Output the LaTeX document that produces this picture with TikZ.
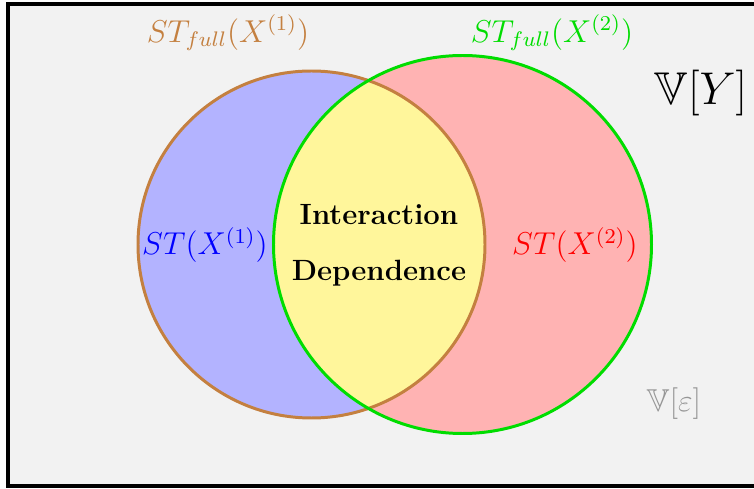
\documentclass[tikz,border=0pt]{standalone}
\usepackage{amsmath,amssymb,xcolor}
\definecolor{vdback}{RGB}{242,242,242}
\definecolor{vdblue}{RGB}{179,179,255}
\definecolor{vdred}{RGB}{255,179,179}
\definecolor{vdyellow}{RGB}{255,246,155}
\definecolor{vdbrown}{RGB}{196,128,64}
\definecolor{vdgreen}{RGB}{0,221,0}
\definecolor{vdgray}{RGB}{150,150,150}
\usepackage{tikz}
\usetikzlibrary{positioning}

\begin{document}
\begin{tikzpicture}[x=0.02cm, y=-0.02cm,
  mathlbl/.style={font=\large, scale=1.5, transform shape},
  boldlbl/.style={font=\large\bfseries, scale=1.39, transform shape}]
  \useasboundingbox (0,0) rectangle (754,489);
  % Background and frame
  \fill[vdback] (8,4) rectangle (780,486);
  \draw[black, line width=2pt] (8,4) rectangle (780,486);

  % Circles
  \coordinate (cone) at (311.5,244.5);
  \coordinate (ctwo) at (462.5,244.5);
  \fill[vdblue] (cone) circle (173.5);
  \fill[vdred] (ctwo) circle (189);
  \begin{scope}
    \clip (cone) circle (173.5);
    \fill[vdyellow] (ctwo) circle (189);
  \end{scope}
  \draw[vdbrown, line width=1.7pt] (cone) circle (173.5);
  \draw[vdgreen, line width=1.7pt] (ctwo) circle (189);

  % Labels
  \node[mathlbl, text=vdbrown] (fullone) at (228,33) {$ST_{full}(X^{(1)})$};
  \node[mathlbl, text=vdgreen] (fulltwo) at (552,33) {$ST_{full}(X^{(2)})$};
  \node[mathlbl, text=blue] (stone) at (205,245) {$ST(X^{(1)})$};
  \node[mathlbl, text=red] (sttwo) at (575,245) {$ST(X^{(2)})$};
  \node[boldlbl] (inter) at (379,215) {Interaction};
  \node[boldlbl] (dep) at (379,273) {Dependence};
  \node[font=\Huge, scale=1.05, transform shape] (vary) at (701,93) {$\mathbb{V}[Y]$};
  \node[mathlbl, text=vdgray] (verr) at (674,404) {$\mathbb{V}[\varepsilon]$};
\end{tikzpicture}
\end{document}
